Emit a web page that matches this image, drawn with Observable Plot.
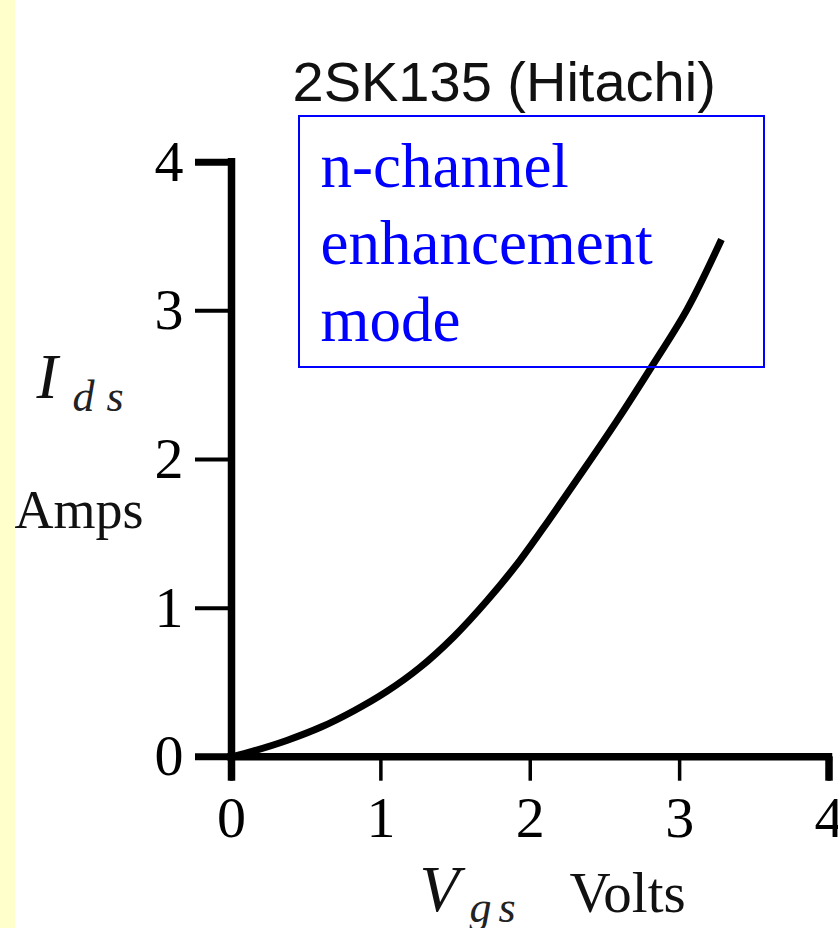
<!DOCTYPE html>
<html>
<head>
<meta charset="utf-8">
<script src="https://cdn.jsdelivr.net/npm/d3@7"></script>
<script src="https://cdn.jsdelivr.net/npm/@observablehq/plot@0.6"></script>
<style>
  html, body { margin: 0; padding: 0; background: #ffffff; }
  #wrap { position: relative; width: 838px; height: 928px; overflow: hidden; background: #ffffff; }
  #strip { position: absolute; left: 0; top: 0; width: 15px; height: 928px; background: #ffffcc; z-index: 2; }
  #box { position: absolute; left: 298px; top: 115px; width: 467px; height: 253px; box-sizing: border-box; border: 2.5px solid #0000ff; z-index: 1; pointer-events: none; }
  #chart svg { display: block; }
</style>
</head>
<body>
<div id="wrap">
  <div id="strip"></div>
  <div id="chart"></div>
  <div id="box"></div>
</div>
<script>
// Data
const vgs = [0, 0.15, 0.37, 0.6, 0.82, 1.04, 1.26, 1.49, 1.71, 1.93, 2.13, 2.33, 2.58, 2.81, 3.05, 3.28];
const ids = [0, 0.04, 0.11, 0.2, 0.31, 0.44, 0.6, 0.81, 1.05, 1.32, 1.6, 1.89, 2.26, 2.62, 3.01, 3.48];
const xTicks = [0, 1, 2, 3, 4];
const yTicks = [0, 1, 2, 3, 4];
const titleText = "2SK135 (Hitachi)";
const boxLines = ["n-channel", "enhancement", "mode"];
const yLabelMain = "I", yLabelSub = ["d", "s"], yUnit = "Amps";
const xLabelMain = "V", xLabelSub = ["g", "s"], xUnit = "Volts";

const data = vgs.map((v, i) => ({vgs: v, ids: ids[i]}));

const serif = "'Liberation Serif', 'Times New Roman', serif";
const sans = "'Liberation Sans', Arial, sans-serif";

const W = 838, H = 928;
const mL = 231, mR = 9.5, mT = 161.7, mB = 171.7;

function lbl(text, dx, baseline, opts = {}) {
  return Plot.text([text], {
    text: d => d,
    frameAnchor: "top-left",
    dx: dx - mL,
    dy: baseline - mT,
    lineAnchor: "bottom",
    textAnchor: "start",
    fill: "#000",
    fontFamily: serif,
    ...opts
  });
}

const chart = Plot.plot({
  width: W,
  height: H,
  marginLeft: mL,
  marginRight: mR,
  marginTop: mT,
  marginBottom: mB,
  style: {background: "transparent", color: "#000", overflow: "visible"},
  x: {domain: [0, 4]},
  y: {domain: [0, 4]},
  marks: [
    // axis lines
    Plot.ruleY([0], {x1: 0, x2: 4, stroke: "#000", strokeWidth: 7.5, strokeLinecap: "square"}),
    Plot.ruleX([0], {y1: 0, y2: 4, stroke: "#000", strokeWidth: 7.5, strokeLinecap: "square"}),
    // y axis ticks + labels
    Plot.axisY({
      ticks: yTicks, tickSize: 36, tickPadding: 12, strokeWidth: 4,
      fontSize: 58, fontFamily: serif, fill: "#000", stroke: "#000",
      label: null, tickFormat: d => String(d)
    }),
    Plot.axisY({
      ticks: [yTicks[0], yTicks[4]], tickSize: 36, strokeWidth: 7,
      stroke: "#000", label: null, tickFormat: () => ""
    }),
    // x axis ticks + labels
    Plot.axisX({
      ticks: xTicks, tickSize: 24.4, tickPadding: 15, strokeWidth: 3.5,
      fontSize: 58, fontFamily: serif, fill: "#000", stroke: "#000",
      label: null, tickFormat: d => String(d)
    }),
    Plot.axisX({
      ticks: [xTicks[0], xTicks[4]], tickSize: 24.4, strokeWidth: 7.5,
      stroke: "#000", label: null, tickFormat: () => ""
    }),
    // the curve
    Plot.line(data, {x: "vgs", y: "ids", stroke: "#000", strokeWidth: 7, curve: "catmull-rom", strokeLinecap: "butt"}),
    // title
    lbl(titleText, 292, 100, {fontFamily: sans, fontSize: 56, fill: "#111"}),
    // box text
    Plot.text([boxLines.join("\n")], {
      text: d => d, frameAnchor: "top-left", dx: 320 - mL, dy: 340 - mT,
      lineAnchor: "bottom", lineHeight: 1.217, textAnchor: "start",
      fontFamily: serif, fontSize: 63, fill: "#0000ff"
    }),
    // y label
    lbl(yLabelMain, 36, 397, {fontSize: 64, fontStyle: "italic", fill: "#111"}),
    lbl(yLabelSub[0], 72, 410, {fontSize: 44, fontStyle: "italic", fill: "#222"}),
    lbl(yLabelSub[1], 106, 410, {fontSize: 44, fontStyle: "italic", fill: "#222"}),
    lbl(yUnit, 14, 527, {fontSize: 54, fill: "#111"}),
    // x label
    lbl(xLabelMain, 419, 910, {fontSize: 65, fontStyle: "italic", fill: "#111"}),
    lbl(xLabelSub[0], 469, 921, {fontSize: 44, fontStyle: "italic", fill: "#222"}),
    lbl(xLabelSub[1], 498, 921, {fontSize: 44, fontStyle: "italic", fill: "#222"}),
    lbl(xUnit, 569, 911, {fontSize: 57, fill: "#111"})
  ]
});
document.getElementById("chart").appendChild(chart);
</script>
</body>
</html>
